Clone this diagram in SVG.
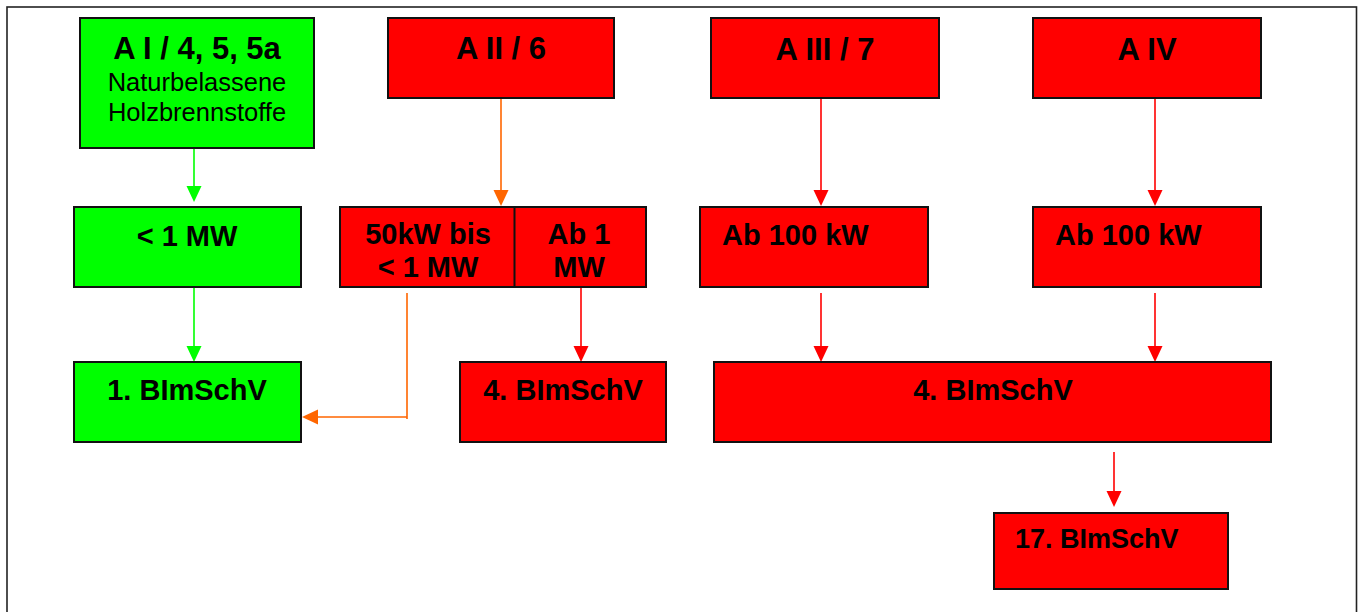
<svg xmlns="http://www.w3.org/2000/svg" width="1362" height="612" viewBox="0 0 1362 612">
  <style>
    .box { stroke: #111; stroke-width: 2; }
    .green { fill: #00FF00; }
    .red { fill: #FF0000; }
    .t { font-family: "Liberation Sans", Arial, sans-serif; font-weight: bold; font-size: 29px; fill: #000; }
    .title { font-size: 31px; }
    .sub { font-family: "Liberation Sans", Arial, sans-serif; font-weight: normal; font-size: 25.5px; fill: #000; }
    .c { text-anchor: middle; }
    .lg { stroke: #00FF00; stroke-width: 1.6; fill: none; }
    .lo { stroke: #FF6600; stroke-width: 1.6; fill: none; }
    .lr { stroke: #FF0000; stroke-width: 1.6; fill: none; }
  </style>
  <defs>
    <marker id="ag" markerUnits="userSpaceOnUse" markerWidth="16" markerHeight="16" refX="10" refY="7.5" orient="auto">
      <path d="M0,0 L16,7.5 L0,15 z" fill="#00FF00"/>
    </marker>
    <marker id="ao" markerUnits="userSpaceOnUse" markerWidth="16" markerHeight="16" refX="10" refY="7.5" orient="auto">
      <path d="M0,0 L16,7.5 L0,15 z" fill="#FF6600"/>
    </marker>
    <marker id="ar" markerUnits="userSpaceOnUse" markerWidth="16" markerHeight="16" refX="10" refY="7.5" orient="auto">
      <path d="M0,0 L16,7.5 L0,15 z" fill="#FF0000"/>
    </marker>
  </defs>
  <rect x="0" y="0" width="1362" height="612" fill="#fff"/>
  <rect x="7" y="7" width="1349.5" height="620" fill="none" stroke="#222" stroke-width="1.6"/>

  <g id="connectors">
    <path class="lg" d="M194,148 V196" marker-end="url(#ag)"/>
    <path class="lg" d="M194,287 V356" marker-end="url(#ag)"/>
    <path class="lo" d="M501,98 V200" marker-end="url(#ao)"/>
    <path class="lo" d="M407,293 V419 M407,417 H308" marker-end="url(#ao)"/>
    <path class="lr" d="M581,287 V356" marker-end="url(#ar)"/>
    <path class="lr" d="M821,98 V200" marker-end="url(#ar)"/>
    <path class="lr" d="M1155,98 V200" marker-end="url(#ar)"/>
    <path class="lr" d="M821,293 V356" marker-end="url(#ar)"/>
    <path class="lr" d="M1155,293 V356" marker-end="url(#ar)"/>
    <path class="lr" d="M1114,452 V501" marker-end="url(#ar)"/>
  </g>

  <g id="n-a1">
    <rect class="box green" x="80" y="18" width="234" height="130"/>
    <text class="t title c" x="197" y="59">A I / 4, 5, 5a</text>
    <text class="sub c" x="197" y="91">Naturbelassene</text>
    <text class="sub c" x="197" y="121">Holzbrennstoffe</text>
  </g>
  <g id="n-lt1mw">
    <rect class="box green" x="74" y="207" width="227" height="80"/>
    <text class="t c" x="187" y="246">&lt; 1 MW</text>
  </g>
  <g id="n-bimschv1">
    <rect class="box green" x="74" y="362" width="227" height="80"/>
    <text class="t c" x="187" y="400">1. BImSchV</text>
  </g>

  <g id="n-a2">
    <rect class="box red" x="388" y="18" width="226" height="80"/>
    <text class="t title c" x="501" y="59">A II / 6</text>
  </g>
  <g id="n-a2-split">
    <rect class="box red" x="340" y="207" width="306" height="80"/>
    <line x1="514.5" y1="207" x2="514.5" y2="287" stroke="#111" stroke-width="2"/>
    <text class="t c" x="428" y="244">50kW bis</text>
    <text class="t c" x="428" y="277">&lt; 1 MW</text>
    <text class="t c" x="579" y="244">Ab 1</text>
    <text class="t c" x="579" y="277">MW</text>
  </g>
  <g id="n-bimschv4a">
    <rect class="box red" x="460" y="362" width="206" height="80"/>
    <text class="t c" x="563" y="400">4. BImSchV</text>
  </g>

  <g id="n-a3">
    <rect class="box red" x="711" y="18" width="228" height="80"/>
    <text class="t title c" x="825" y="60">A III / 7</text>
  </g>
  <g id="n-a4">
    <rect class="box red" x="1033" y="18" width="228" height="80"/>
    <text class="t title c" x="1147" y="60">A IV</text>
  </g>
  <g id="n-ab100a">
    <rect class="box red" x="700" y="207" width="228" height="80"/>
    <text class="t" x="722" y="245">Ab 100 kW</text>
  </g>
  <g id="n-ab100b">
    <rect class="box red" x="1033" y="207" width="228" height="80"/>
    <text class="t" x="1055" y="245">Ab 100 kW</text>
  </g>
  <g id="n-bimschv4b">
    <rect class="box red" x="714" y="362" width="557" height="80"/>
    <text class="t c" x="993" y="400">4. BImSchV</text>
  </g>
  <g id="n-bimschv17">
    <rect class="box red" x="994" y="513" width="234" height="76"/>
    <text class="t" x="1015" y="548" style="font-size:27px">17. BImSchV</text>
  </g>
</svg>
